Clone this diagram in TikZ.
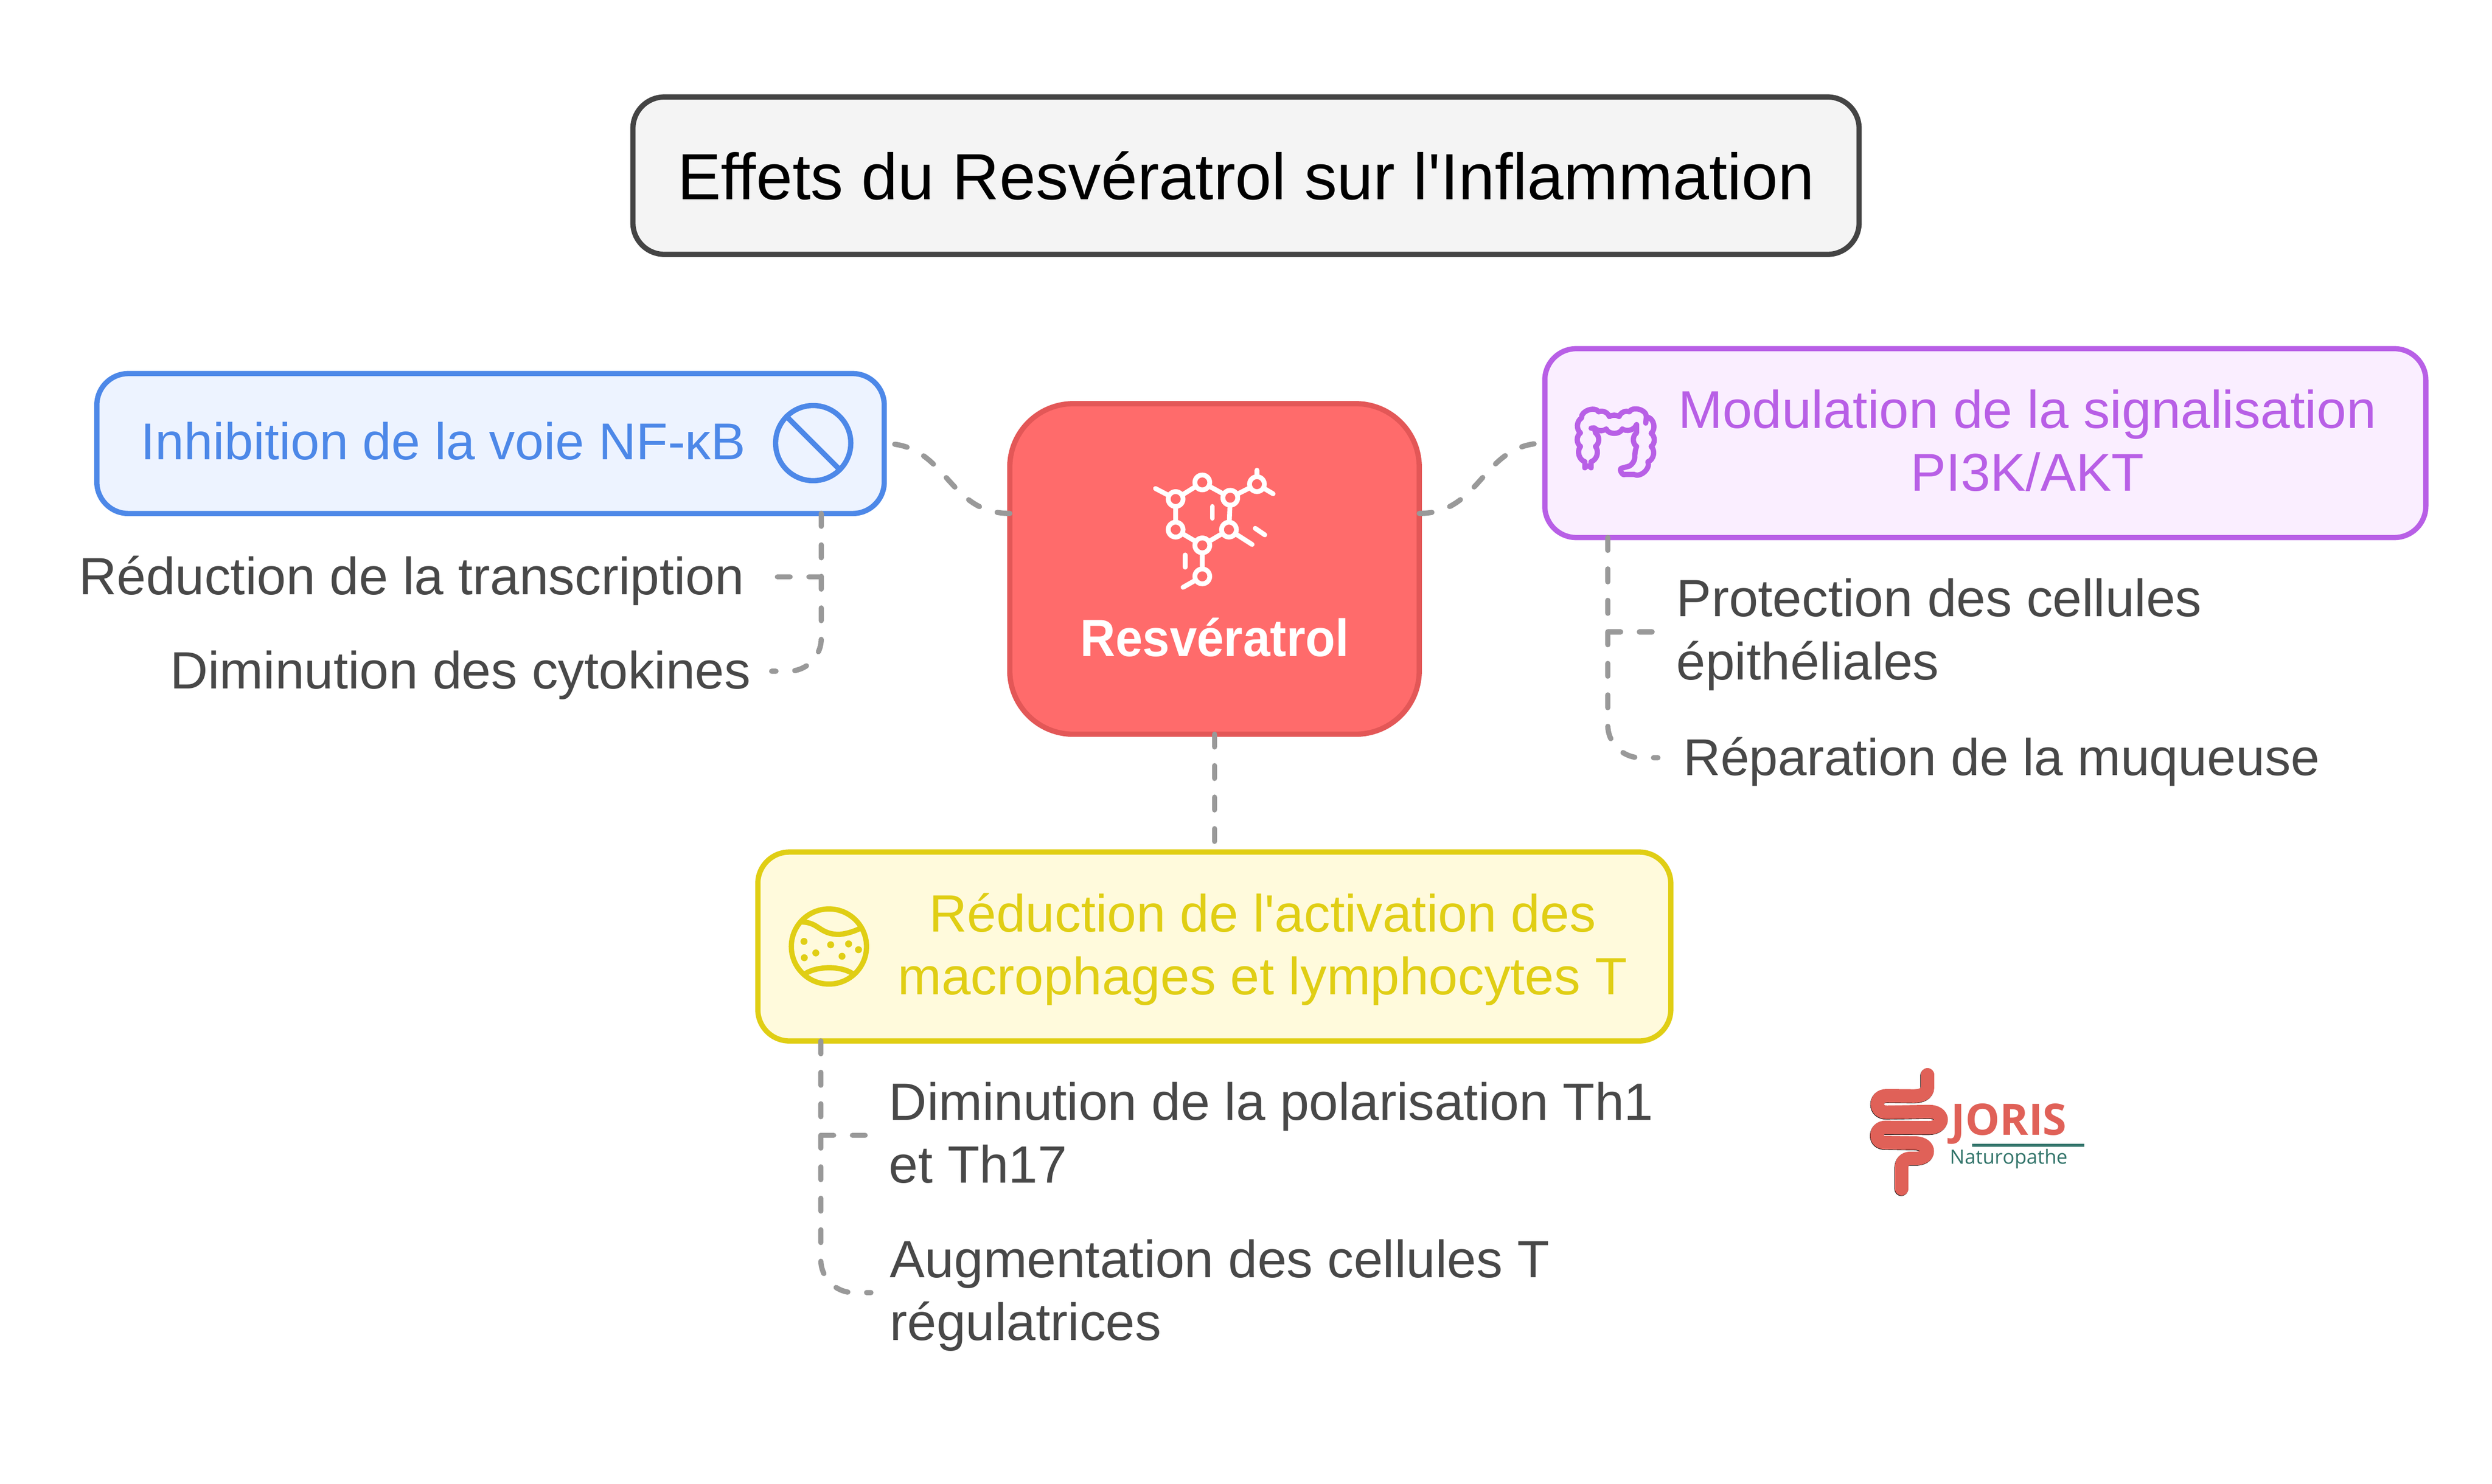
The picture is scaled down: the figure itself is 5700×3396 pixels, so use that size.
\documentclass[tikz,border=0pt]{standalone}
\usepackage{fontspec}
\usepackage{tikz}
\setmainfont[Ligatures=TeXOff]{Liberation Sans}
\newfontfamily\logofont{Open Sans}
\newfontfamily\redfont[FakeStretch=0.93]{Liberation Sans Bold}
\definecolor{titlefill}{HTML}{F4F4F4}
\definecolor{titleline}{HTML}{444444}
\definecolor{redfill}{HTML}{FF6B6B}
\definecolor{redline}{HTML}{E35757}
\definecolor{bluefill}{HTML}{EDF3FF}
\definecolor{blueline}{HTML}{4D88E8}
\definecolor{purplefill}{HTML}{FAEEFF}
\definecolor{purpleline}{HTML}{B85FE6}
\definecolor{yellowfill}{HTML}{FFFADC}
\definecolor{yellowline}{HTML}{E0CE14}
\definecolor{bodygray}{HTML}{484848}
\definecolor{linkgray}{HTML}{999999}
\definecolor{logored}{HTML}{E06158}
\definecolor{logoteal}{HTML}{33756B}
\tikzset{
  cardbox/.style={draw, line width=0.12cm, rounded corners=0.72cm, inner sep=0pt, outer sep=0pt},
  cardtext/.style={anchor=base, align=center, inner sep=0pt, font=\fontsize{34.14}{40.97}\selectfont},
  subtext/.style={text=bodygray, inner ysep=0pt, align=left, font=\fontsize{34.14}{40.97}\selectfont},
  oneline/.style={text height=1cm, text depth=0.2cm},
  link/.style={draw=linkgray, line width=0.12cm, line cap=round, dash pattern=on 0.29cm off 0.43cm},
  iconline/.style={line width=0.12cm, line cap=round, line join=round},
  mollink/.style={white, line width=0.11cm, line cap=round},
  molring/.style={draw=white, fill=redfill, line width=0.11cm}
}

\begin{document}
\begin{tikzpicture}[x=0.01cm, y=-0.01cm]

	\useasboundingbox (0,0) rectangle (5700,3396);
	\fill[white] (0,0) rectangle (5700,3396);

	% main boxes
	\node[cardbox, draw=titleline, fill=titlefill, minimum width=28.03cm, minimum height=3.60cm, font=\fontsize{42.5}{50}\selectfont] (title) at (2850,402) {Effets du Resvératrol sur l'Inflammation};
	\node[cardbox, draw=redline, fill=redfill, rounded corners=1.45cm, minimum width=9.36cm, minimum height=7.56cm] (red) at (2778,1302) {};
	\node[cardbox, draw=blueline, fill=bluefill, minimum width=18.00cm, minimum height=3.20cm] (nfkb) at (1122,1015) {};
	\node[cardbox, draw=purpleline, fill=purplefill, minimum width=20.14cm, minimum height=4.32cm] (pik) at (4541,1014) {};
	\node[cardbox, draw=yellowline, fill=yellowfill, minimum width=20.87cm, minimum height=4.32cm] (macro) at (2777.5,2166) {};

	% box labels
	\node[anchor=base, inner sep=0pt, text=white, font=\redfont\fontsize{34.14}{40}\selectfont] (redlabel) at (2778,1502) {Resvératrol};
	\node[cardtext, text=blueline, font=\fontsize{33.7}{40}\selectfont] (nfkblabel) at (1014,1052) {Inhibition de la voie NF-κB};
	\node[cardtext, text=purpleline, font=\fontsize{34.6}{40.97}\selectfont] (piklabel) at (4637,1124) {Modulation de la signalisation\\PI3K/AKT};
	\node[cardtext, text=yellowline] (macrolabel) at (2888,2276) {Réduction de l'activation des\\macrophages et lymphocytes T};

	% sub items
	\node[subtext, oneline, anchor=east, inner xsep=0.68cm] (transcr) at (1771,1320) {Réduction de la transcription};
	\node[subtext, oneline, anchor=east, inner xsep=0.47cm] (cyto) at (1765,1536) {Diminution des cytokines};
	\node[subtext, anchor=west, inner xsep=0.48cm] (epith) at (3786,1452) {Protection des cellules\\épithéliales};
	\node[subtext, oneline, anchor=west, inner xsep=0.57cm, font=\fontsize{33.7}{40}\selectfont] (muq) at (3792,1734) {Réparation de la muqueuse};
	\node[subtext, anchor=west, inner xsep=0.47cm] (polar) at (1986,2592) {Diminution de la polarisation Th1\\et Th17};
	\node[subtext, anchor=west, inner xsep=0.43cm] (regul) at (1992,2964) {Augmentation des cellules T\\régulatrices};

	% connectors, all start at the parent so the dashes line up
	\draw[link] ([yshift=1.27cm]red.west) .. controls +(-144,0) and +(144,0) .. (nfkb.east);
	\draw[link] ([yshift=1.27cm]red.east) .. controls +(144,0) and +(-144,0) .. (pik.west);
	\draw[link] (red.south) -- (red.south |- macro.north);
	\draw[link] ([xshift=7.56cm]nfkb.south) |- (transcr.east);
	\draw[link, rounded corners=0.75cm] ([xshift=7.56cm]nfkb.south) |- (cyto.east);
	\draw[link] ([xshift=-8.63cm]pik.south) |- ([yshift=0.06cm]epith.west);
	\draw[link, rounded corners=0.75cm] ([xshift=-8.63cm]pik.south) |- (muq.west);
	\draw[link] ([xshift=-8.995cm]macro.south) |- ([yshift=-0.06cm]polar.west);
	\draw[link, rounded corners=0.75cm] ([xshift=-8.995cm]macro.south) |- ([yshift=0.06cm]regul.west);

	% molecule icon
	\draw[mollink] (2750,1104) -- (2689,1142) -- (2689,1212) -- (2750,1248) -- (2811,1212) -- (2814,1139) -- cycle;
	\draw[mollink] (2814,1139) -- (2875,1108) -- (2875,1076);
	\draw[mollink] (2875,1108) -- (2912,1130);
	\draw[mollink] (2643,1118) -- (2689,1142);
	\draw[mollink] (2750,1248) -- (2750,1319) -- (2706,1344);
	\draw[mollink] (2811,1212) -- (2864,1246);
	\draw[mollink] (2773,1159) -- (2773,1186);
	\draw[mollink] (2871,1209) -- (2893,1224);
	\draw[mollink] (2711,1270) -- (2711,1298);
	\path[molring] (2750,1104) circle (17) (2689,1142) circle (17) (2814,1139) circle (17) (2875,1108) circle (17);
	\path[molring] (2811,1212) circle (17) (2689,1212) circle (17) (2750,1248) circle (17) (2750,1319) circle (17);

	% forbidden sign
	\draw[iconline, blueline] (1860,1014) circle (86);
	\draw[iconline, blueline] (1799,953) -- (1921,1075);

	% colon icon
	\begin{scope}[shift={(3500,780)}, scale=1/3]
		\draw[iconline, purpleline] (375,830) -- (375,872) to[bend left=90] (418,872) -- (418,830) to[bend right=55] (448,725) to[bend right=55] (448,632) to[bend right=10] (440,605);
		\draw[iconline, purpleline] (375,830) to[bend left=55] (345,725) to[bend left=55] (345,632) to[bend left=55] (352,530) to[bend left=75] (470,487) to[bend left=45] (543,520) to[bend left=30] (610,520) to[bend left=45] (680,487) to[bend left=75] (797,520) -- (793,565);
		\draw[iconline, purpleline] (418,600) -- (440,597) to[bend right=40] (522,605) to[bend right=70] (632,605) to[bend right=50] (730,575);
		\draw[iconline, purpleline] (810,525) to[bend left=60] (830,635) to[bend left=55] (830,725) to[bend left=60] (808,830) to[bend left=70] (712,917) -- (650,917) to[bend left=100] (625,875) -- (680,860) to[bend right=25] (718,800) to[bend left=10] (730,725) to[bend left=55] (730,632) -- (730,575);
	\end{scope}

	% macrophage icon
	\begin{scope}[shift={(1700,1950)}, scale=1/3]
		\draw[iconline, yellowline] (588,648) circle (258);
		\draw[iconline, yellowline] (400,480) .. controls (520,480) and (520,565) .. (660,565) .. controls (710,560) and (760,545) .. (803,523);
		\draw[iconline, yellowline] (425,835) .. controls (510,780) and (670,780) .. (752,835);
		\fill[yellowline] (417,613) circle (24) (600,636) circle (24) (723,630) circle (24) (791,670) circle (24);
		\fill[yellowline] (498,692) circle (24) (678,715) circle (24) (419,725) circle (24);
	\end{scope}

	% logo, black under salmon
	\begin{scope}[shift={(4240,2425)}, xscale=0.3444, yscale=0.33]
		\draw[black, line width=0.31cm, line cap=round, xshift=-0.02cm, yshift=-0.03cm] (490,105) -- (490,190) .. controls (490,235) and (450,252) .. (400,252) -- (220,250) .. controls (175,250) and (157,280) .. (157,308) .. controls (157,340) and (180,365) .. (220,365) -- (500,360) .. controls (550,360) and (580,385) .. (580,415) .. controls (580,445) and (550,472) .. (500,472) -- (210,470) .. controls (175,470) and (155,495) .. (155,525) .. controls (155,555) and (175,575) .. (210,575) -- (410,578) .. controls (460,580) and (488,605) .. (488,635) .. controls (488,665) and (460,685) .. (410,685) -- (375,685) .. controls (340,685) and (318,710) .. (318,745) -- (318,895);
		\draw[logored, line width=0.31cm, line cap=round] (490,105) -- (490,190) .. controls (490,235) and (450,252) .. (400,252) -- (220,250) .. controls (175,250) and (157,280) .. (157,308) .. controls (157,340) and (180,365) .. (220,365) -- (500,360) .. controls (550,360) and (580,385) .. (580,415) .. controls (580,445) and (550,472) .. (500,472) -- (210,470) .. controls (175,470) and (155,495) .. (155,525) .. controls (155,555) and (175,575) .. (210,575) -- (410,578) .. controls (460,580) and (488,605) .. (488,635) .. controls (488,665) and (460,685) .. (410,685) -- (375,685) .. controls (340,685) and (318,710) .. (318,745) -- (318,895);
	\end{scope}
	\node[anchor=base west, inner sep=0pt, text=logored, font=\logofont\fontsize{28.2}{30}\bfseries\selectfont] (joris) at (4462,2598) {JORIS};
	\draw[logoteal, line width=0.07cm] (4511,2621) -- (4767,2621);
	\node[anchor=base west, inner sep=0pt, text=logoteal, font=\logofont\fontsize{12.8}{14}\selectfont] (natu) at (4460,2663) {Naturopathe};

\end{tikzpicture}
\end{document}
